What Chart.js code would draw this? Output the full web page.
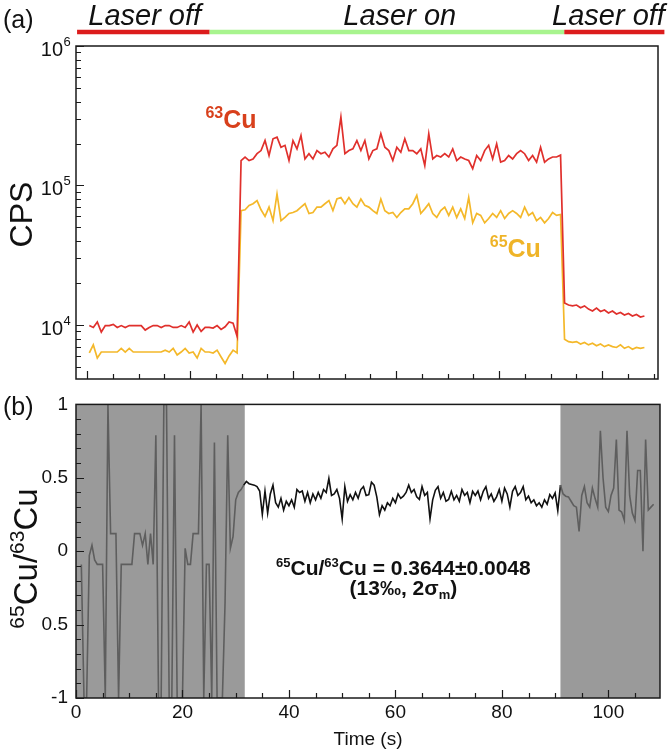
<!DOCTYPE html>
<html>
<head>
<meta charset="utf-8">
<script src="https://cdn.jsdelivr.net/npm/chart.js@4.4.1/dist/chart.umd.min.js"></script>
<style>
  html, body { margin: 0; padding: 0; background: #fff; }
  #wrap { position: relative; width: 669px; height: 751px; }
  #cpsChart { position: absolute; left: 0; top: 0; }
  #ratioChart { position: absolute; left: 0; top: 385px; }
</style>
</head>
<body>
<div id="wrap">
  <canvas id="cpsChart" width="669" height="390"></canvas>
  <canvas id="ratioChart" width="669" height="366"></canvas>
</div>
<script>
// panel (a): counts per second, one sample every 0.75 s starting at 2.5 s
var startA = 2.5, stepA = 0.75;
var cu63 = [
  9900, 9600, 10500, 8900, 9900, 9900, 10100, 9600, 9900, 9600,
  9900, 9900, 9900, 9900, 9200, 9600, 9900, 9900, 9600, 9900,
  9900, 9600, 9600, 9900, 9600, 10500, 8900, 10000, 9000, 9600,
  9600, 9500, 9900, 9300, 9700, 10500, 10300, 8300,
  151000, 160000, 151000, 155000, 169000, 178000, 210000, 164000, 216000, 222000,
  188000, 194000, 151000, 210000, 183000, 228000, 155000, 169000, 155000, 178000,
  169000, 173000, 160000, 183000, 194000, 309000, 169000, 178000, 183000, 210000,
  178000, 210000, 155000, 178000, 183000, 235000, 188000, 178000, 151000, 188000,
  173000, 216000, 178000, 178000, 169000, 183000, 139000, 235000, 155000, 164000,
  160000, 169000, 160000, 183000, 151000, 160000, 155000, 151000, 132000, 164000,
  151000, 178000, 194000, 155000, 199000, 147000, 151000, 164000, 155000, 169000,
  178000, 169000, 151000, 164000, 147000, 188000, 147000, 155000, 160000, 160000,
  165000,
  14400, 13900, 13700, 13900, 13300, 13700, 13000, 12600, 13200, 12500,
  12800, 12200, 12600, 12000, 12300, 11800, 12100, 11600, 11900, 11400, 11600
];
var cu65 = [
  6300, 7200, 5800, 6400, 6400, 6400, 6400, 6400, 6800, 6400,
  6800, 6400, 6400, 6400, 6400, 6400, 6400, 6400, 6400, 6600,
  6400, 6800, 6100, 6400, 6800, 6300, 6400, 5800, 6800, 6400,
  6400, 6300, 6600, 5900, 5300, 6000, 6600, 6300,
  66000, 67000, 72000, 74000, 78000, 67000, 60000, 70000, 56000, 87000,
  56000, 59000, 63000, 64000, 66000, 70000, 74000, 63000, 64000, 70000,
  70000, 74000, 78000, 66000, 80000, 82000, 74000, 82000, 74000, 70000,
  80000, 72000, 70000, 66000, 63000, 80000, 66000, 63000, 64000, 59000,
  64000, 68000, 68000, 74000, 85000, 63000, 68000, 74000, 63000, 59000,
  66000, 70000, 61000, 70000, 59000, 68000, 58000, 82000, 54000, 63000,
  61000, 54000, 58000, 63000, 59000, 66000, 58000, 63000, 66000, 63000,
  59000, 70000, 61000, 64000, 56000, 59000, 54000, 58000, 64000, 61000,
  62000,
  7900, 7600, 7500, 7600, 7300, 7500, 7200, 7400, 7100, 7300,
  7000, 7200, 7000, 6900, 7200, 6800, 7000, 6700, 6900, 6800, 6900
];

// panel (b): 65Cu/63Cu ratio, one sample every 0.5 s starting at 1 s
var startB = 1.0, stepB = 0.5;
var ratio = [
  -0.09, -1, -1, -0.03, 0.04, -0.06, -0.09, -0.09, -0.09, -1,
  1, 0.12, 0.12, 0.12, -1, -0.09, -0.09, -0.09, -0.09, -0.09,
  0.12, 0.12, 0.12, 0.04, 0.12, -0.09, 0.12, -0.09, 0.79, -1,
  -1, 1, 1, -1, -1, 0.79, -1, -1, -1, 0.02,
  -0.09, -0.09, 0.12, 0.12, 0.12, 1, -1, -0.09, -0.09, -1,
  0.74, -1, -1, -1, -0.35, 0.79, 0.02, 0.1, 0.35, 0.4,
  0.42, 0.45,
  0.475, 0.46, 0.455, 0.45, 0.44, 0.41, 0.25, 0.41, 0.26, 0.39,
  0.45, 0.33, 0.30, 0.36, 0.28, 0.34, 0.31, 0.35, 0.30, 0.42, 0.40,
  0.41, 0.34, 0.40, 0.33, 0.39, 0.35, 0.40, 0.36, 0.42, 0.40,
  0.495, 0.38, 0.39, 0.42, 0.36, 0.22, 0.44, 0.34, 0.385, 0.35,
  0.40, 0.36, 0.42, 0.44, 0.38, 0.385, 0.47, 0.45, 0.37, 0.25,
  0.31, 0.28, 0.33, 0.31, 0.36, 0.33, 0.39, 0.36, 0.375, 0.40,
  0.45, 0.40, 0.42, 0.37, 0.353, 0.44, 0.38, 0.40, 0.22, 0.35,
  0.415, 0.44, 0.36, 0.40, 0.34, 0.353, 0.408, 0.35, 0.38, 0.34,
  0.42, 0.38, 0.40, 0.33, 0.408, 0.38, 0.41, 0.35, 0.408, 0.44,
  0.36, 0.39, 0.34, 0.37, 0.42, 0.34, 0.43, 0.39, 0.30, 0.408,
  0.44, 0.38, 0.40, 0.44, 0.35, 0.375, 0.33, 0.35, 0.31, 0.33,
  0.30, 0.35, 0.32, 0.386, 0.36, 0.397, 0.276, 0.451,
  0.39, 0.375, 0.37, 0.34, 0.31, 0.30, 0.135, 0.38, 0.44, 0.33,
  0.30, 0.43, 0.36, 0.30, 0.82, 0.50, 0.30, 0.27, 0.38, 0.43,
  0.76, 0.28, 0.267, 0.21, 0.82, 0.38, 0.26, 0.21, 0.55, 0.55,
  0.0, 0.76, 0.28, 0.30, 0.32
];

// laser state bar over panel (a), in seconds
var laserNames = ['Laser off', 'Laser on', 'Laser off'];
var laserSpans = [[0.2, 25.1], [25.1, 91.7], [91.7, 110.5]];
var laserLabelAt = [12.9, 60.8, 100.0];
var laserOnWindow = [31.7, 91.0];

var yTicksA = [1e4, 1e5, 1e6];
var yExpA = ['4', '5', '6'];
var xTicksB = [0, 20, 40, 60, 80, 100];
var yTicksB = [-1, -0.5, 0, 0.5, 1];
var yLabelsB = ['-1', '0.5', '0', '0.5', '1'];

var FONT = '"Liberation Sans", Arial, Helvetica, sans-serif';

function toPoints(start, step, arr) {
  var out = [];
  for (var i = 0; i < arr.length; i++) out.push({ x: start + step * i, y: arr[i] });
  return out;
}

// text with superscripts (1) and subscripts (-1)
function richText(ctx, parts, x, y, size, align, weight, color) {
  var small = Math.round(size * 0.64);
  var w = 0;
  parts.forEach(function (p) {
    ctx.font = weight + ' ' + (p[1] ? small : size) + 'px ' + FONT;
    w += ctx.measureText(p[0]).width;
  });
  var cx = align === 'center' ? x - w / 2 : (align === 'right' ? x - w : x);
  ctx.fillStyle = color;
  ctx.textAlign = 'left';
  ctx.textBaseline = 'alphabetic';
  parts.forEach(function (p) {
    ctx.font = weight + ' ' + (p[1] ? small : size) + 'px ' + FONT;
    var dy = p[1] === 1 ? -size * 0.4 : (p[1] === -1 ? size * 0.2 : 0);
    ctx.fillText(p[0], cx, y + dy);
    cx += ctx.measureText(p[0]).width;
  });
}

function tickMarks(ctx, area, scale, values, len, horizontal) {
  ctx.beginPath();
  values.forEach(function (v) {
    var p = Math.round(scale.getPixelForValue(v)) + 0.5;
    if (horizontal) {
      if (p < area.left || p > area.right) return;
      ctx.moveTo(p, area.bottom);
      ctx.lineTo(p, area.bottom - len);
    } else {
      if (p < area.top - 1 || p > area.bottom + 1) return;
      ctx.moveTo(area.left, p);
      ctx.lineTo(area.left + len, p);
    }
  });
  ctx.stroke();
}

var decorA = {
  id: 'decorA',
  afterDraw: function (chart) {
    var ctx = chart.ctx, a = chart.chartArea;
    var xs = chart.scales.x, ys = chart.scales.y;
    ctx.save();
    ctx.strokeStyle = '#1a1a1a';
    ctx.lineWidth = 1.5;
    ctx.strokeRect(a.left, a.top, a.right - a.left, a.bottom - a.top);

    ctx.lineWidth = 1.2;
    var minor = [];
    [1e3, 1e4, 1e5].forEach(function (d) {
      for (var m = 2; m <= 9; m++) if (m * d >= ys.min) minor.push(m * d);
    });
    tickMarks(ctx, a, ys, yTicksA, 8, false);
    tickMarks(ctx, a, ys, minor, 5, false);
    var maj = [], mnr = [];
    for (var k = 0; k < 23; k++) {
      var t = 2.07 + 4.837 * k;
      if (k % 4 === 0) maj.push(t); else mnr.push(t);
    }
    tickMarks(ctx, a, xs, maj, 8, true);
    tickMarks(ctx, a, xs, mnr, 5, true);

    ctx.fillStyle = '#111';
    yTicksA.forEach(function (v, i) {
      var y = ys.getPixelForValue(v);
      ctx.font = '20px ' + FONT;
      ctx.textAlign = 'right';
      ctx.textBaseline = 'alphabetic';
      ctx.fillText('10', a.left - 13, y + 10);
      ctx.font = '13px ' + FONT;
      ctx.textAlign = 'left';
      ctx.fillText(yExpA[i], a.left - 12.5, y);
    });

    ctx.save();
    ctx.translate(32, (a.top + a.bottom) / 2 + 2);
    ctx.rotate(-Math.PI / 2);
    richText(ctx, [['CPS', 0]], 0, 0, 32, 'center', '', '#111');
    ctx.restore();

    richText(ctx, [['(a)', 0]], 3, 28, 25, 'left', '', '#111');

    ctx.lineWidth = 4.5;
    laserSpans.forEach(function (s, i) {
      ctx.strokeStyle = i === 1 ? '#a8f48e' : '#dc1c1c';
      ctx.beginPath();
      ctx.moveTo(xs.getPixelForValue(s[0]), 32);
      ctx.lineTo(xs.getPixelForValue(s[1]), 32);
      ctx.stroke();
    });
    ctx.fillStyle = '#111';
    ctx.font = 'italic 29px ' + FONT;
    ctx.textAlign = 'center';
    ctx.textBaseline = 'alphabetic';
    laserNames.forEach(function (n, i) {
      ctx.fillText(n, xs.getPixelForValue(laserLabelAt[i]), 25);
    });

    richText(ctx, [['63', 1], ['Cu', 0]], xs.getPixelForValue(24.3), ys.getPixelForValue(2.6e5),
      25, 'left', 'bold', '#d8401c');
    richText(ctx, [['65', 1], ['Cu', 0]], xs.getPixelForValue(77.7), ys.getPixelForValue(30700),
      25, 'left', 'bold', '#efb428');
    ctx.restore();
  }
};

var decorB = {
  id: 'decorB',
  beforeDatasetsDraw: function (chart) {
    var ctx = chart.ctx, a = chart.chartArea, xs = chart.scales.x;
    ctx.save();
    ctx.fillStyle = '#9a9a9a';
    var x1 = xs.getPixelForValue(laserOnWindow[0]);
    var x2 = xs.getPixelForValue(laserOnWindow[1]);
    ctx.fillRect(a.left, a.top, x1 - a.left, a.bottom - a.top);
    ctx.fillRect(x2, a.top, a.right - x2, a.bottom - a.top);
    ctx.restore();
  },
  afterDraw: function (chart) {
    var ctx = chart.ctx, a = chart.chartArea;
    var xs = chart.scales.x, ys = chart.scales.y;
    ctx.save();
    ctx.strokeStyle = '#1a1a1a';
    ctx.lineWidth = 1.5;
    ctx.strokeRect(a.left, a.top, a.right - a.left, a.bottom - a.top);

    ctx.lineWidth = 1.2;
    var ymin = [], xmaj = [], xmin = [];
    for (var k = -10; k <= 10; k++) if (k % 5 !== 0) ymin.push(k / 10);
    for (var t = 0; t <= 105; t += 5) (t % 20 === 0 ? xmaj : xmin).push(t);
    tickMarks(ctx, a, ys, yTicksB, 8, false);
    tickMarks(ctx, a, ys, ymin, 5, false);
    tickMarks(ctx, a, xs, xmaj, 8, true);
    tickMarks(ctx, a, xs, xmin, 5, true);

    ctx.save();
    ctx.translate(37, ys.getPixelForValue(-0.05));
    ctx.rotate(-Math.PI / 2);
    richText(ctx, [['65', 1], ['Cu/', 0], ['63', 1], ['Cu', 0]], 0, 0, 33, 'center', '', '#111');
    ctx.restore();

    richText(ctx, [['(b)', 0]], 3, 30, 25, 'left', '', '#111');

    var cx = xs.getPixelForValue(61.5);
    richText(ctx, [['65', 1], ['Cu/', 0], ['63', 1], ['Cu = 0.3644\u00b10.0048', 0]],
      cx, ys.getPixelForValue(-0.164), 21, 'center', 'bold', '#111');
    richText(ctx, [['(13\u2030, 2\u03c3', 0], ['m', -1], [')', 0]],
      cx, ys.getPixelForValue(-0.295), 21, 'center', 'bold', '#111');
    ctx.restore();
  }
};

new Chart(document.getElementById('cpsChart'), {
  type: 'line',
  data: {
    datasets: [
      { label: '63Cu', data: toPoints(startA, stepA, cu63), borderColor: '#e0302c', borderWidth: 1.7 },
      { label: '65Cu', data: toPoints(startA, stepA, cu65), borderColor: '#f4b82a', borderWidth: 1.7 }
    ]
  },
  options: {
    responsive: false,
    animation: false,
    layout: { padding: { left: 76, top: 46, right: 11, bottom: 11 } },
    elements: { point: { radius: 0 }, line: { tension: 0 } },
    plugins: { legend: { display: false }, tooltip: { enabled: false } },
    scales: {
      x: { type: 'linear', min: 0, max: 109.3, display: false },
      y: { type: 'logarithmic', min: 4100, max: 1e6, display: false }
    }
  },
  plugins: [decorA]
});

new Chart(document.getElementById('ratioChart'), {
  type: 'line',
  data: {
    datasets: [{
      label: 'ratio',
      data: toPoints(startB, stepB, ratio),
      borderColor: '#5e5e5e',
      borderWidth: 1.6,
      segment: {
        borderColor: function (c) {
          return (c.p0.parsed.x >= 31.5 && c.p1.parsed.x <= laserOnWindow[1]) ? '#111' : '#5e5e5e';
        }
      }
    }]
  },
  options: {
    responsive: false,
    animation: false,
    layout: { padding: { left: 0, top: 11, right: 9, bottom: 0 } },
    elements: { point: { radius: 0 }, line: { tension: 0 } },
    plugins: { legend: { display: false }, tooltip: { enabled: false } },
    scales: {
      x: {
        type: 'linear', min: 0, max: 109.7,
        afterBuildTicks: function (s) { s.ticks = xTicksB.map(function (v) { return { value: v }; }); },
        afterFit: function (s) { s.height = 53; },
        grid: { display: false, drawTicks: false },
        border: { display: false },
        ticks: { autoSkip: false, maxRotation: 0, padding: 3, color: '#111', font: { family: FONT, size: 19 },
          callback: function (v) { return String(v); } },
        title: { display: true, text: 'Time (s)', color: '#111', font: { family: FONT, size: 19 },
          padding: { top: 0, bottom: 0 } }
      },
      y: {
        min: -1, max: 1,
        afterBuildTicks: function (s) { s.ticks = yTicksB.map(function (v) { return { value: v }; }); },
        afterFit: function (s) { s.width = 76; },
        grid: { display: false, drawTicks: false },
        border: { display: false },
        ticks: { autoSkip: false, padding: 8, color: '#111', font: { family: FONT, size: 19 },
          callback: function (v, i) { return yLabelsB[i]; } }
      }
    }
  },
  plugins: [decorB]
});
</script>
</body>
</html>
